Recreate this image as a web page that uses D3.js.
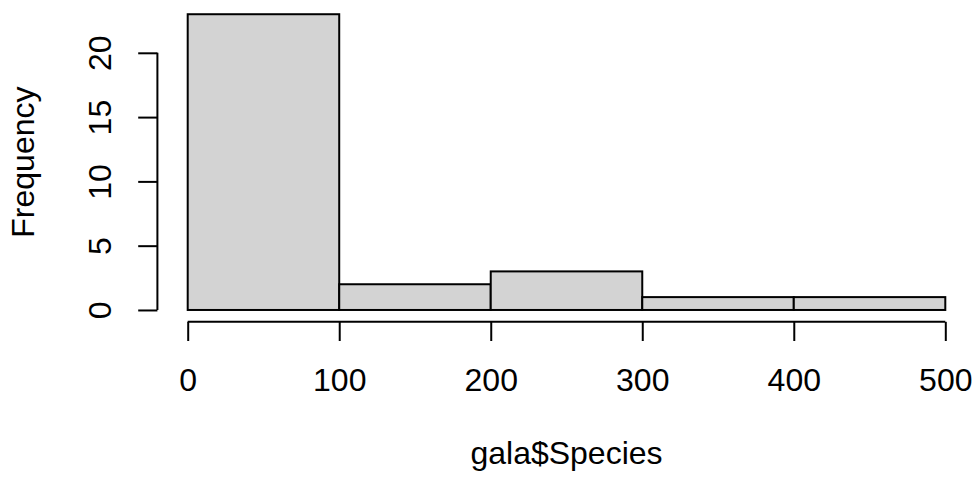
<!DOCTYPE html>
<html>
<head>
<meta charset="utf-8">
<script src="https://cdn.jsdelivr.net/npm/d3@7"></script>
<style>
  html, body { margin: 0; padding: 0; background: #fff; }
  svg text { font-family: "Liberation Sans", Arial, Helvetica, sans-serif; fill: #000; }
</style>
</head>
<body>
<svg id="chart" width="977" height="477"></svg>
<script>
// Histogram of species counts: bin edges and frequency per bin
const binEdges = [0, 100, 200, 300, 400, 500];
const counts = [23, 2, 3, 1, 1];
const xTicks = [0, 100, 200, 300, 400, 500];
const yTicks = [0, 5, 10, 15, 20];
const xTitle = "gala$Species";
const yTitle = "Frequency";

const svg = d3.select("#chart");
const fontPx = 32;
const tickLen = 19.2;

// Plot region with 4% padding around the data ranges
const plot = { left: 157.4, right: 975.6, top: 2.4, bottom: 321.8 };
const xPad = (binEdges[binEdges.length - 1] - binEdges[0]) * 0.04;
const yMax = d3.max(counts);
const yPad = yMax * 0.04;

const x = d3.scaleLinear()
  .domain([binEdges[0] - xPad, binEdges[binEdges.length - 1] + xPad])
  .range([plot.left, plot.right]);
const y = d3.scaleLinear()
  .domain([-yPad, yMax + yPad])
  .range([plot.bottom, plot.top]);

const bins = counts.map((c, i) => ({ x0: binEdges[i], x1: binEdges[i + 1], n: c }));

// Bars
svg.append("g")
  .selectAll("rect")
  .data(bins)
  .join("rect")
  .attr("x", d => x(d.x0))
  .attr("width", d => x(d.x1) - x(d.x0))
  .attr("y", d => y(d.n))
  .attr("height", d => y(0) - y(d.n))
  .attr("fill", "#d3d3d3")
  .attr("stroke", "#000")
  .attr("stroke-width", 2);

// X axis
const gx = svg.append("g")
  .attr("transform", `translate(0,${plot.bottom})`)
  .call(d3.axisBottom(x).tickValues(xTicks).tickSize(tickLen).tickFormat(d3.format("d")));
gx.select(".domain").remove();
gx.append("line")
  .attr("x1", x(xTicks[0])).attr("x2", x(xTicks[xTicks.length - 1]))
  .attr("stroke", "#000").attr("stroke-width", 2);
gx.selectAll(".tick line").attr("stroke", "#000").attr("stroke-width", 2);
gx.selectAll(".tick text")
  .attr("y", 69.5).attr("dy", 0)
  .style("font-size", fontPx + "px")
  .attr("fill", "#000");

// Y axis
const gy = svg.append("g")
  .attr("transform", `translate(${plot.left},0)`)
  .call(d3.axisLeft(y).tickValues(yTicks).tickSize(tickLen).tickFormat(d3.format("d")));
gy.select(".domain").remove();
gy.append("line")
  .attr("y1", y(yTicks[0])).attr("y2", y(yTicks[yTicks.length - 1]))
  .attr("stroke", "#000").attr("stroke-width", 2);
gy.selectAll(".tick line").attr("stroke", "#000").attr("stroke-width", 2);
gy.selectAll(".tick text")
  .attr("x", 0).attr("y", 0).attr("dy", 0)
  .attr("text-anchor", "middle")
  .attr("transform", "translate(-45.9,0) rotate(-90)")
  .style("font-size", fontPx + "px")
  .attr("fill", "#000");

// Axis titles
svg.append("text")
  .attr("x", (plot.left + plot.right) / 2)
  .attr("y", 464)
  .attr("text-anchor", "middle")
  .style("font-size", fontPx + "px")
  .text(xTitle);

svg.append("text")
  .attr("transform", `translate(33.8,${(plot.top + plot.bottom) / 2}) rotate(-90)`)
  .attr("text-anchor", "middle")
  .style("font-size", fontPx + "px")
  .text(yTitle);
</script>
</body>
</html>
